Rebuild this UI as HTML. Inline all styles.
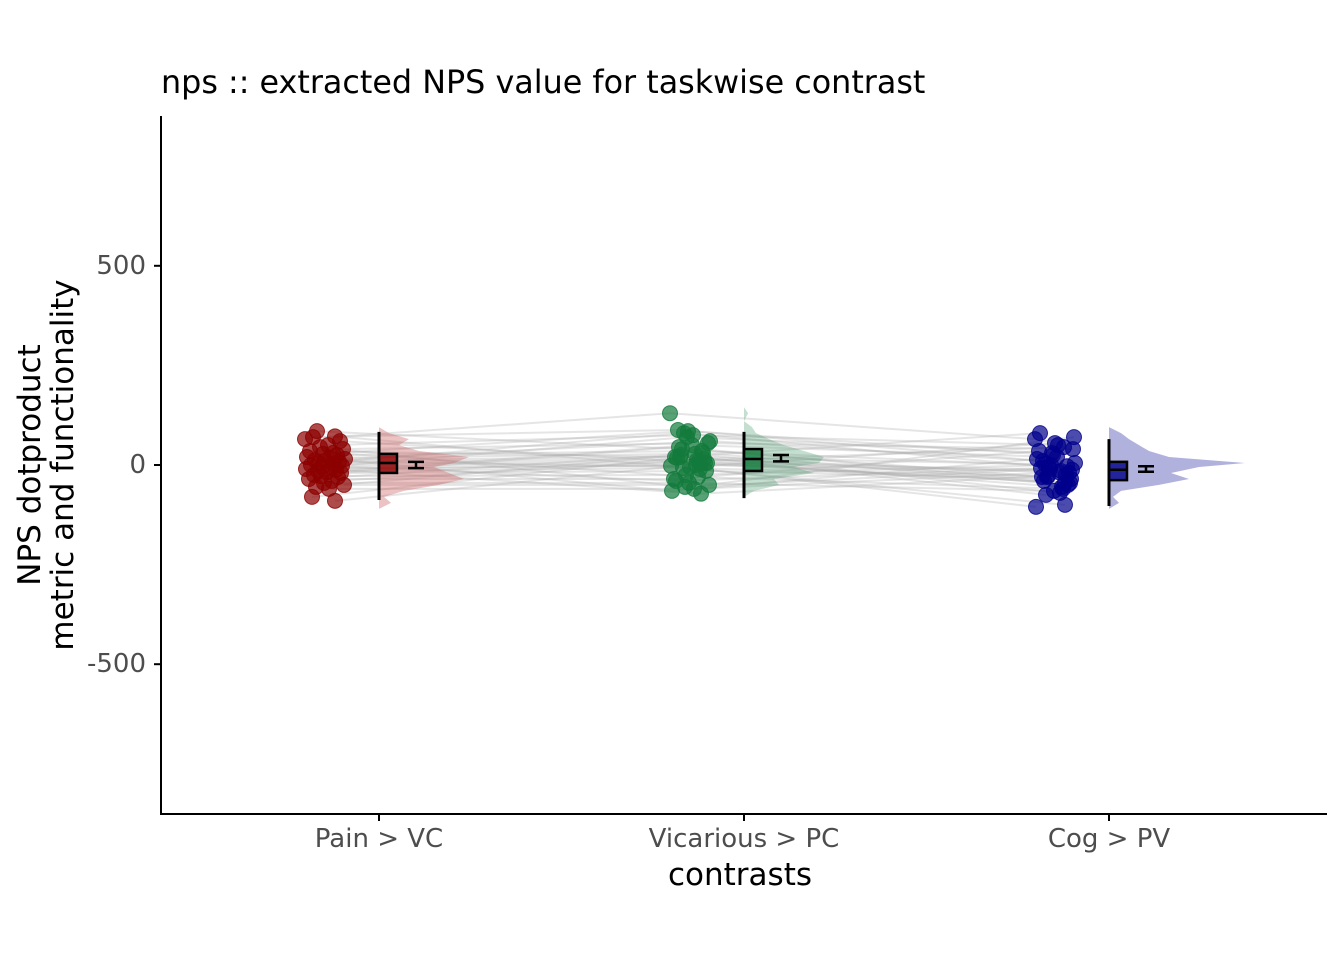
<!DOCTYPE html>
<html><head><meta charset="utf-8"><style>
body{margin:0;background:#fff}
svg{display:block;font-family:"DejaVu Sans","Liberation Sans",sans-serif}
</style></head><body>
<svg id="c" width="1344" height="960">
<text x="161" y="93" font-size="31.8" fill="#000">nps :: extracted NPS value for taskwise contrast</text>
<g id="plot"></g>
<line x1="161" y1="116" x2="161" y2="815" stroke="#000" stroke-width="2"/>
<line x1="160" y1="814" x2="1327" y2="814" stroke="#000" stroke-width="2"/>
<g id="axes"></g>
<text x="740" y="885" font-size="31" text-anchor="middle">contrasts</text>
<text transform="translate(40,465) rotate(-90)" font-size="31" text-anchor="middle"><tspan x="0" dy="0">NPS dotproduct</tspan><tspan x="0" dy="33">metric and functionality</tspan></text>
</svg>
<script>
const categories=["Pain > VC","Vicarious > PC","Cog > PV"];
const yTicks=[500,0,-500];
const painVals=[85,70,72,65,60,50,45,40,35,30,28,25,20,18,15,12,10,8,5,3,0,-2,-5,-8,-10,-12,-15,-18,-20,-25,-28,-30,-35,-40,-45,-50,-55,-60,-80,-90];
const vicVals=[40,88,-10,130,5,75,-55,55,20,-30,85,35,-65,28,60,20,-5,15,80,10,-40,5,70,0,-2,-72,-8,50,-15,45,-25,30,-35,12,-45,-50,25,-60,18,3];
const cogVals=[-30,10,-100,65,-45,50,-10,40,80,-60,25,-3,15,-70,5,2,55,-20,-5,45,-8,-12,30,-15,-105,-25,-28,20,-35,-40,0,-50,35,-55,-65,70,-75,-18,-30,-45];
const jitter=[-8,-12,10,-20,15,3,-5,18,-15,8,-2,12,-18,5,20,-10,0,14,-6,9,-14,17,-3,6,-19,11,-7,2,16,-11,-4,13,-16,7,-1,19,-9,4,-13,10];
const boxQ=[[-88,-20,5,28,83],[-83,-15,15,40,83],[-103,-38,-12,8,65]];
const means=[[0,8],[17,8],[-10,7]];
const densY=[-110,-95,-80,-65,-50,-35,-20,-5,5,20,35,50,65,80,95,110,130,145];
const densPain=[0,12,5,25,60,85,70,55,75,90,40,20,30,10,0,0,0,0];
const densVic=[0,0,0,10,35,30,70,50,75,80,60,40,25,12,8,0,4,0];
const densCog=[0,10,4,12,50,80,62,90,136,60,40,30,20,12,0,0,0,0];
const colors=["#8b0000","#137a3c","#00008b"];
const fills=["rgba(200,80,80,0.35)","rgba(60,150,100,0.3)","rgba(60,60,170,0.4)"];
const NS="http://www.w3.org/2000/svg";
const y=v=>465-v*0.3984;
const x=i=>379+i*365;
const plot=document.getElementById('plot'),axes=document.getElementById('axes');
function el(t,a,p){const e=document.createElementNS(NS,t);for(const k in a)e.setAttribute(k,a[k]);(p||plot).appendChild(e);return e;}
const all=[painVals,vicVals,cogVals],dens=[densPain,densVic,densCog];
for(let s=0;s<painVals.length;s++){
 const pts=all.map((vals,i)=>(x(i)-54+jitter[s])+","+y(vals[s])).join(" ");
 const l=el('polyline',{points:pts,fill:"none",stroke:"#aaa","stroke-opacity":0.3,"stroke-width":2});
 
 
}
all.forEach((vals,i)=>{
 let d="M"+x(i)+","+y(densY[0]);
 densY.forEach((v,k)=>{d+=" L"+(x(i)+dens[i][k])+","+y(v);});
 d+=" L"+x(i)+","+y(densY[densY.length-1])+"Z";
 const vi=el('path',{d:d,fill:fills[i]});
 
 
 vals.forEach((v,s)=>{
  const c=el('circle',{cx:x(i)-54+jitter[s],cy:y(v),r:7.5,fill:colors[i],"fill-opacity":0.7,stroke:colors[i],"stroke-opacity":0.8});
  
  
 });
 const q=boxQ[i];
 const w=el('line',{x1:x(i),x2:x(i),y1:y(q[4]),y2:y(q[0]),stroke:"#000","stroke-width":3});
 
 
 const b=el('rect',{x:x(i),y:y(q[3]),width:18,height:y(q[1])-y(q[3]),fill:colors[i],"fill-opacity":0.8,stroke:"#000","stroke-width":2.5});
 
 
 const m=el('line',{x1:x(i),x2:x(i)+18,y1:y(q[2]),y2:y(q[2]),stroke:"#000","stroke-width":2.5});
 
 
 const mx=x(i)+37,mn=means[i];
 const eb=el('path',{d:`M${mx-8},${y(mn[0]+mn[1])}H${mx+8}M${mx},${y(mn[0]+mn[1])}V${y(mn[0]-mn[1])}M${mx-8},${y(mn[0]-mn[1])}H${mx+8}`,stroke:"#000","stroke-width":2.5,fill:"none"});
 
 
 el('line',{x1:x(i),x2:x(i),y1:814,y2:821,stroke:"#000","stroke-width":2},axes);
 const t=el('text',{x:x(i),y:847,"font-size":26,fill:"#4d4d4d","text-anchor":"middle"},axes);
 t.textContent=categories[i];
 
 
});
yTicks.forEach(v=>{
 el('line',{x1:154,x2:161,y1:y(v),y2:y(v),stroke:"#000","stroke-width":2},axes);
 const t=el('text',{x:146,y:y(v)+8,"font-size":26,fill:"#4d4d4d","text-anchor":"end"},axes);
 t.textContent=v;
 
 
});
</script>
</body></html>
